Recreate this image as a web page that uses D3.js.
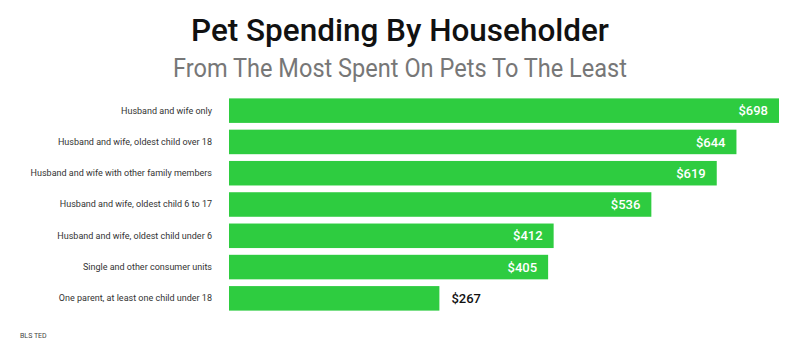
<!DOCTYPE html>
<html>
<head>
<meta charset="utf-8">
<script src="https://cdn.jsdelivr.net/npm/d3@7"></script>
<style>
  body { margin: 0; background: #fff; }
  svg text { font-family: Roboto, "Noto Sans", sans-serif; }
</style>
</head>
<body>
<div id="chart"></div>
<script>
const categories = [
  "Husband and wife only",
  "Husband and wife, oldest child over 18",
  "Husband and wife with other family members",
  "Husband and wife, oldest child 6 to 17",
  "Husband and wife, oldest child under 6",
  "Single and other consumer units",
  "One parent, at least one child under 18"
];
const spending = [698, 644, 619, 536, 412, 405, 267];

const data = categories.map((c, i) => ({ name: c, value: spending[i] }));

const width = 800, height = 352;
const GREEN = "#2ecc40";

const svg = d3.select("#chart")
  .append("svg")
  .attr("width", width)
  .attr("height", height);

// titles (slightly condensed lettering, like the original)
svg.append("text")
  .attr("x", width / 2)
  .attr("y", 41)
  .attr("text-anchor", "middle")
  .attr("font-size", 31)
  .attr("font-weight", 500)
  .attr("fill", "#111")
  .attr("textLength", 418)
  .attr("lengthAdjust", "spacingAndGlyphs")
  .text("Pet Spending By Householder");

svg.append("text")
  .attr("x", width / 2)
  .attr("y", 77)
  .attr("text-anchor", "middle")
  .attr("font-size", 26)
  .attr("fill", "#777")
  .attr("textLength", 454)
  .attr("lengthAdjust", "spacingAndGlyphs")
  .text("From The Most Spent On Pets To The Least");

const x = d3.scaleLinear()
  .domain([0, 698])
  .range([229, 779]);

const y = d3.scaleBand()
  .domain(categories)
  .range([95, 314])
  .paddingInner(0.216)
  .paddingOuter(0.108);

// category labels
const yAxis = d3.axisLeft(y).tickSize(0).tickPadding(17);
const axisG = svg.append("g")
  .attr("transform", `translate(${x(0)},0)`)
  .call(yAxis);
axisG.select(".domain").remove();
axisG.selectAll("text")
  .attr("font-family", "Roboto, sans-serif")
  .attr("font-size", 9)
  .attr("fill", "#333");

// bars
svg.selectAll("rect.bar")
  .data(data)
  .enter()
  .append("rect")
  .attr("class", "bar")
  .attr("x", x(0))
  .attr("y", d => y(d.name))
  .attr("width", d => x(d.value) - x(0))
  .attr("height", y.bandwidth())
  .attr("fill", GREEN);

// value labels: inside for long bars, outside for the short one
svg.selectAll("text.val")
  .data(data)
  .enter()
  .append("text")
  .attr("class", "val")
  .attr("x", d => d.value > 300 ? x(d.value) - 11 : x(d.value) + 12)
  .attr("y", d => y(d.name) + y.bandwidth() / 2)
  .attr("dy", "0.36em")
  .attr("text-anchor", d => d.value > 300 ? "end" : "start")
  .attr("font-size", 13)
  .attr("font-weight", 500)
  .attr("fill", d => d.value > 300 ? "#fff" : "#111")
  .text(d => "$" + d.value);

// source
svg.append("text")
  .attr("x", 20)
  .attr("y", 338)
  .attr("font-size", 7)
  .attr("fill", "#444")
  .text("BLS TED");
</script>
</body>
</html>
